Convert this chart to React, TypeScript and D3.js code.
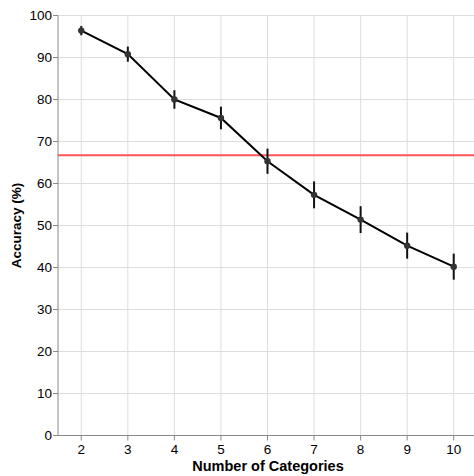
import React from "react";
import * as d3 from "d3";

const categories = [2, 3, 4, 5, 6, 7, 8, 9, 10];
const accuracy = [96.4, 90.8, 80.0, 75.6, 65.3, 57.3, 51.4, 45.2, 40.2];
const errors = [1.1, 1.8, 2.2, 2.7, 3.0, 3.2, 3.2, 3.1, 3.1];
const baseline = 66.7;
const yTicks = [0, 10, 20, 30, 40, 50, 60, 70, 80, 90, 100];

export default function App() {
  const W = 474, H = 476;
  const left = 58, top = 15.5, bottom = 435.5, right = 477;
  const x = d3.scalePoint<number>().domain(categories).range([left, right]).padding(0.5);
  const y = d3.scaleLinear().domain([0, 100]).range([bottom, top]);
  const line = d3.line<number>().x((_, i) => x(categories[i])!).y((d) => y(d));
  const font = "Liberation Sans, Arial, Helvetica, sans-serif";
  return (
    <svg width={W} height={H} style={{ position: "absolute", left: 0, top: 0, display: "block" }} fontFamily={font}>
      {yTicks.map((t) => (
        <line key={"gy" + t} x1={left} x2={W} y1={y(t)} y2={y(t)} stroke="#ddd" strokeWidth={1} />
      ))}
      {categories.map((c) => (
        <line key={"gx" + c} x1={x(c)} x2={x(c)} y1={top} y2={bottom} stroke="#ddd" strokeWidth={1} />
      ))}
      <line x1={left} x2={left} y1={top} y2={bottom} stroke="#888" strokeWidth={1} />
      <line x1={left} x2={W} y1={bottom} y2={bottom} stroke="#888" strokeWidth={1} />
      {yTicks.map((t) => (
        <g key={"ty" + t}>
          <line x1={left - 5} x2={left} y1={y(t)} y2={y(t)} stroke="#888" />
          <text x={left - 6} y={y(t)} dy="0.35em" textAnchor="end" fontSize={13.5} fill="#000">{t}</text>
        </g>
      ))}
      {categories.map((c) => (
        <g key={"tx" + c}>
          <line x1={x(c)} x2={x(c)} y1={bottom} y2={bottom + 5} stroke="#888" />
          <text x={x(c)} y={bottom + 18} textAnchor="middle" fontSize={13.5} fill="#000">{c}</text>
        </g>
      ))}
      <text x={268} y={471} textAnchor="middle" fontSize={14.5} fontWeight="bold" fill="#000">Number of Categories</text>
      <text transform={`translate(21,${(top + bottom) / 2}) rotate(-90)`} textAnchor="middle" fontSize={13.5} fontWeight="bold" fill="#000">Accuracy (%)</text>
      <line x1={left} x2={W} y1={y(baseline)} y2={y(baseline)} stroke="#f55" strokeWidth={2} />
      <path d={line(accuracy)!} fill="none" stroke="#000" strokeWidth={2} />
      {categories.map((c, i) => (
        <line key={"e" + c} x1={x(c)} x2={x(c)} y1={y(accuracy[i] + errors[i])} y2={y(accuracy[i] - errors[i])} stroke="#111" strokeWidth={2} />
      ))}
      {categories.map((c, i) => (
        <circle key={"p" + c} cx={x(c)} cy={y(accuracy[i])} r={3.2} fill="#333" />
      ))}
    </svg>
  );
}
